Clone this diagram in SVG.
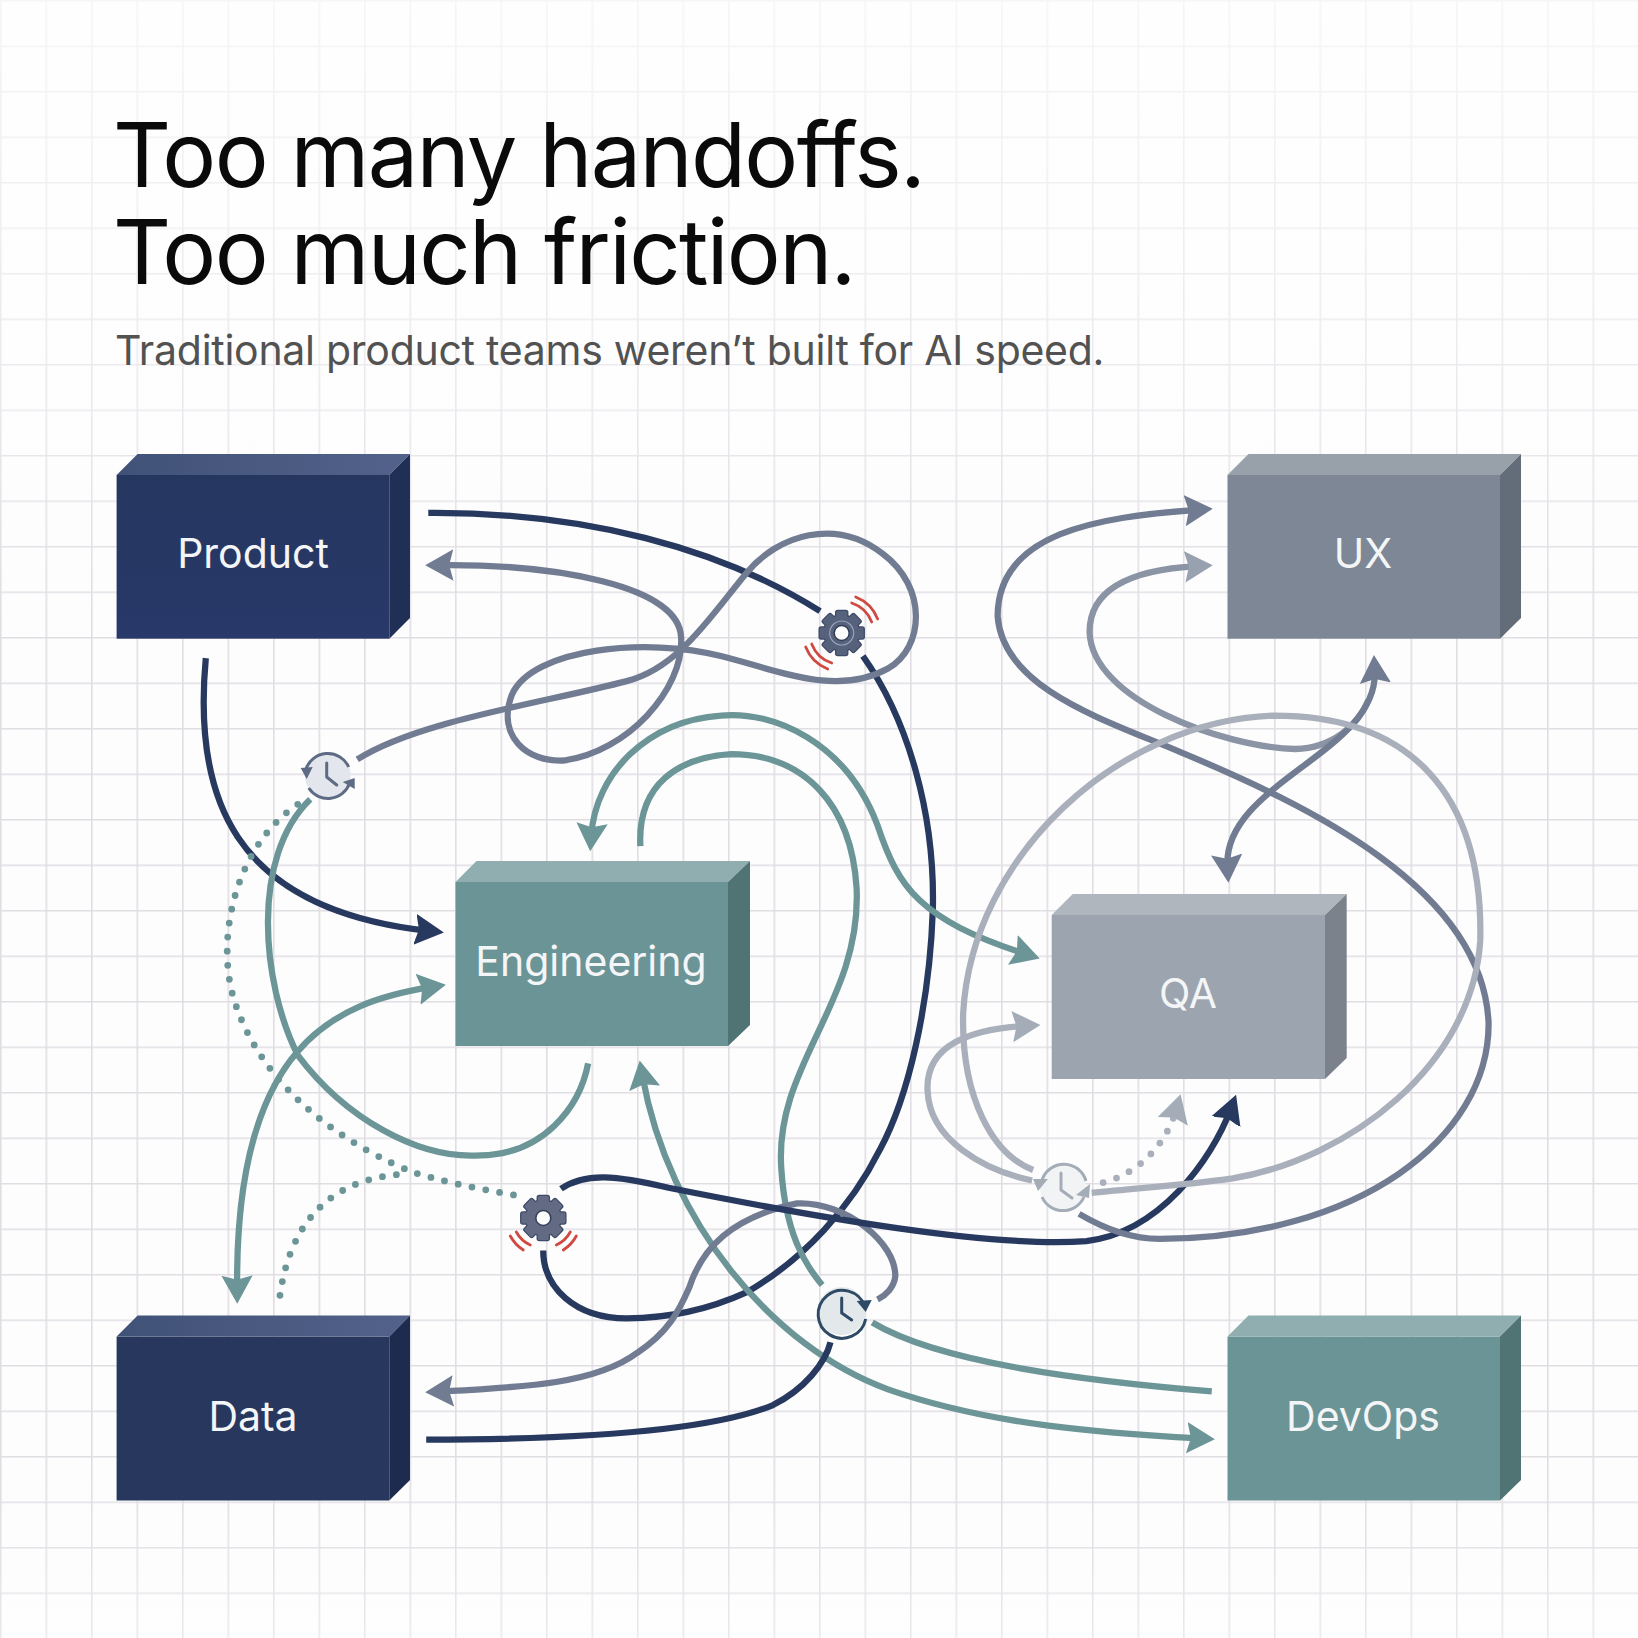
<svg xmlns="http://www.w3.org/2000/svg" xmlns:xlink="http://www.w3.org/1999/xlink" width="1638" height="1638" viewBox="0 0 1638 1638">
<style>
.lbl{font-family:Inter,"Liberation Sans",sans-serif;font-size:41px;fill:#f4f5f6;text-anchor:middle}
.ttl{font-family:Inter,"Liberation Sans",sans-serif;font-size:90px;font-weight:430;letter-spacing:-1.7px;font-variant-ligatures:none;fill:#0a0a0a}
.sub{font-family:Inter,"Liberation Sans",sans-serif;font-size:41px;letter-spacing:-.27px;fill:#525252}
.c{fill:none;stroke-width:6;stroke-linecap:butt}
.navy{stroke:#27395f}.slate{stroke:#717c93}.teal{stroke:#6c9597}.mist{stroke:#8b94a5}.light{stroke:#a9b0bb}
.dot{stroke-width:6.5;stroke-linecap:round;stroke-dasharray:0 13.5}
.red{fill:none;stroke:#cf4a42;stroke-width:2.8;stroke-linecap:round}
.hand{fill:none;stroke-width:3;stroke-linecap:round;stroke-linejoin:round}
</style>
<defs>
<pattern id="grid" width="45.5" height="45.5" patternUnits="userSpaceOnUse">
<path d="M0.5 0V45.5M0 0.5H45.5" stroke="#e0dde3" stroke-width="2.2" fill="none"/>
</pattern>
<linearGradient id="fade" x1="0" y1="0" x2="0" y2="1"><stop offset="0" stop-color="#fff" stop-opacity=".7"/><stop offset=".25" stop-color="#fff" stop-opacity=".35"/><stop offset=".38" stop-color="#fff" stop-opacity="0"/><stop offset=".9" stop-color="#fff" stop-opacity="0"/><stop offset="1" stop-color="#fff" stop-opacity=".35"/></linearGradient>
<marker id="aNavy" markerUnits="userSpaceOnUse" markerWidth="32" markerHeight="32" viewBox="0 -16 32 32" refX="12" refY="0" orient="auto-start-reverse"><path d="M-1 -15L27 0L-1 15L3 0Z" fill="#27395f"/></marker>
<marker id="aSlate" markerUnits="userSpaceOnUse" markerWidth="32" markerHeight="32" viewBox="0 -16 32 32" refX="12" refY="0" orient="auto-start-reverse"><path d="M0 -15L27 0L0 15L4 0Z" fill="#717c93"/></marker>
<marker id="aTeal" markerUnits="userSpaceOnUse" markerWidth="32" markerHeight="32" viewBox="0 -16 32 32" refX="12" refY="0" orient="auto-start-reverse"><path d="M0 -15L27 0L0 15L4 0Z" fill="#6c9597"/></marker>
<marker id="aMist" markerUnits="userSpaceOnUse" markerWidth="32" markerHeight="32" viewBox="0 -16 32 32" refX="12" refY="0" orient="auto-start-reverse"><path d="M0 -15L27 0L0 15L4 0Z" fill="#98a1af"/></marker>
<marker id="aLight" markerUnits="userSpaceOnUse" markerWidth="32" markerHeight="32" viewBox="0 -16 32 32" refX="12" refY="0" orient="auto-start-reverse"><path d="M0 -15L27 0L0 15L4 0Z" fill="#a3acb7"/></marker>
<g id="gearBody">
<rect x="-5.5" y="-22" width="11" height="44" rx="1.5"/>
<rect x="-5.5" y="-22" width="11" height="44" rx="1.5" transform="rotate(45)"/>
<rect x="-5.5" y="-22" width="11" height="44" rx="1.5" transform="rotate(90)"/>
<rect x="-5.5" y="-22" width="11" height="44" rx="1.5" transform="rotate(135)"/>
<circle r="17.5"/>
</g>
<linearGradient id="navyFront" x1="0" y1="0" x2="0" y2="1"><stop offset="0" stop-color="#25365f"/><stop offset="1" stop-color="#28396a"/></linearGradient>
<linearGradient id="navyTop" x1="0" y1="0" x2="1" y2="0"><stop offset="0" stop-color="#415278"/><stop offset="1" stop-color="#52628a"/></linearGradient>
</defs>
<rect width="1638" height="1638" fill="#fdfdfd"/>
<rect width="1638" height="1638" fill="url(#grid)"/>
<rect width="1638" height="1638" fill="url(#fade)"/>

<g id="title">
<text class="ttl" x="113" y="187">Too many handoffs.</text>
<text class="ttl" x="113" y="284">Too much friction.</text>
<text class="sub" x="115" y="365">Traditional product teams weren’t built for AI speed.</text>
</g>

<g id="connectors" transform="scale(1.04464)">
<path class="c navy" d="M410 491C560 490 690 525 785 585"/>
<path class="c navy" d="M826 628C870 690 895 780 893 870C890 960 870 1050 842 1101C815 1155 770 1205 715 1237C680 1253 640 1262 600 1262C550 1262 520 1232 520 1197"/>
<path class="c slate" marker-end="url(#aSlate)" d="M342 727C400 690 520 673 600 652C650 639 680 590 715 548C745 512 800 495 845 530C888 562 885 620 850 640C800 668 740 640 690 628C620 610 510 620 490 665C475 705 505 730 540 728C600 720 655 660 652 610C650 560 530 540 422 541"/>
<path class="c navy" marker-end="url(#aNavy)" d="M197 630C185 760 220 870 410 891"/>
<path class="c teal" d="M297 765C240 820 250 940 285 1010C330 1070 400 1110 460 1106C520 1105 555 1060 563 1018"/>
<path class="c teal dot" d="M285 770C225 810 205 900 225 960C255 1050 340 1100 395 1122C430 1133 460 1138 492 1144"/>
<path class="c teal dot" d="M268 1240C275 1190 300 1130 385 1124"/>
<path class="c teal" marker-start="url(#aTeal)" marker-end="url(#aTeal)" d="M412 945C320 960 225 1000 227 1233"/>
<path class="c teal" marker-start="url(#aTeal)" marker-end="url(#aTeal)" d="M981 913C880 880 860 850 840 790C810 710 740 680 690 685C620 690 570 740 566 800"/>
<path class="c teal" d="M613 810C610 750 650 725 700 722C770 722 815 770 820 850C825 960 740 1020 748 1120C752 1180 770 1210 787 1230"/>
<path class="c teal" marker-start="url(#aTeal)" marker-end="url(#aTeal)" d="M615 1030C640 1170 740 1290 850 1330C950 1365 1060 1372 1148 1377"/>
<path class="c teal" d="M835 1266C900 1305 1040 1322 1160 1332"/>
<path class="c navy" d="M408 1378C550 1378 680 1370 740 1345C770 1330 790 1305 795 1285"/>
<path class="c slate" marker-start="url(#aSlate)" d="M422 1332C500 1328 570 1325 610 1295C640 1275 650 1255 660 1232C672 1195 700 1165 763 1152C810 1150 858 1190 857 1222C856 1232 848 1240 840 1244"/>
<path class="c navy" marker-end="url(#aNavy)" d="M537 1138C560 1122 590 1125 640 1137C780 1165 950 1195 1040 1188C1110 1180 1160 1110 1178 1062"/>
<path class="c slate" marker-start="url(#aSlate)" d="M1146 488C1050 495 955 510 955 590C960 660 1060 690 1130 720C1250 770 1420 850 1425 980C1425 1090 1300 1185 1110 1186C1080 1186 1055 1175 1033 1162"/>
<path class="c mist" marker-start="url(#aMist)" d="M1146 542C1090 545 1043 560 1043 605C1045 670 1170 715 1240 717C1275 716 1300 695 1310 670"/>
<path class="c slate" marker-start="url(#aSlate)" marker-end="url(#aSlate)" d="M1316 642C1320 720 1170 750 1175 830"/>
<path class="c light" d="M989 1120C950 1105 920 1050 922 970C930 820 1070 690 1220 685C1350 685 1420 760 1417 900C1410 1020 1290 1110 1180 1128C1130 1135 1090 1137 1045 1142"/>
<path class="c light" marker-start="url(#aLight)" d="M981 982C930 985 885 1000 888 1045C890 1090 940 1120 988 1130"/>
<path class="c light dot" marker-end="url(#aLight)" d="M1056 1132C1085 1125 1115 1100 1126 1062"/>
</g>

<g id="gear-1" transform="translate(841.7 633)">
<use href="#gearBody" fill="#3e4a66" stroke="#3e4a66" stroke-width="2.5"/>
<use href="#gearBody" fill="#56617c"/>
<circle r="12" fill="none" stroke="#98a2b8" stroke-width="1.2"/>
<circle r="7.5" fill="#fdfdfd" stroke="#353f58" stroke-width="1.5"/>
<path class="red" d="M10 -30A32 32 0 0 1 30 -11M14 -36A39 39 0 0 1 36 -14M-10 30A32 32 0 0 1 -30 11M-14 36A39 39 0 0 1 -36 14"/>
</g>
<g id="gear-2" transform="translate(543.3 1218)">
<use href="#gearBody" fill="#3e4a66" stroke="#3e4a66" stroke-width="2.5"/>
<use href="#gearBody" fill="#626a84"/>
<circle r="7.5" fill="#fdfdfd" stroke="#353f58" stroke-width="1.5"/>
<path class="red" d="M-13 27A30 30 0 0 1 -27 14M-20 32A38 38 0 0 1 -33 18M13 27A30 30 0 0 0 27 14M20 32A38 38 0 0 0 33 18"/>
</g>
<g id="clock-1" transform="translate(327.7 775)">
<circle r="23" fill="#e3e6ec"/>
<path d="M-22 -5A23 23 0 0 1 21 -8M22 8A23 23 0 0 1 -19 13" fill="none" stroke="#5d6b84" stroke-width="3"/>
<path d="M-27 -7L-15 -8L-21 4ZM27 14L15 7L27 3Z" fill="#5d6b84"/>
<path class="hand" stroke="#5d6b84" d="M-1 -12V2L9 10"/>
</g>
<g id="clock-3" transform="translate(841.7 1311)">
<circle r="24" fill="#e3e9ea"/>
<path d="M23 -5A24 24 0 1 0 24 8" fill="none" stroke="#2f4a66" stroke-width="3"/>
<path d="M15 -10L30 -11L24 1Z" fill="#2f4a66"/>
<path class="hand" stroke="#2f4a66" d="M0 -13V2L10 9"/>
</g>
<g id="clock-4" transform="translate(1063 1188)">
<circle r="23" fill="#f2f3f5"/>
<path d="M-21 -8A23 23 0 0 1 23 -7M21 9A23 23 0 0 1 -21 9" fill="none" stroke="#a3acb7" stroke-width="3"/>
<path d="M-30 -9L-15 -9L-25 3ZM27 -4L26 10L13 7Z" fill="#a3acb7"/>
<path class="hand" stroke="#a3acb7" d="M-2 -15V2L9 10"/>
</g>

<g id="node-product">
<path d="M116.6 475L137.6 454H410L389.3 475Z" fill="url(#navyTop)"/>
<path d="M389.3 475L410 454V618L389.3 638.7Z" fill="#1f2f55"/>
<rect x="116.6" y="475" width="272.7" height="163.7" fill="url(#navyFront)"/>
<text class="lbl" x="253" y="568">Product</text>
</g>
<g id="node-ux">
<path d="M1227.5 475L1248.5 454H1521L1500 475Z" fill="#98a0aa"/>
<path d="M1500 475L1521 454V618L1500 638.7Z" fill="#636c79"/>
<rect x="1227.5" y="475" width="272.5" height="163.7" fill="#7d8796"/>
<text class="lbl" x="1363" y="568">UX</text>
</g>
<g id="node-engineering">
<path d="M455.5 882L476.5 861H750L728 882Z" fill="#90aeaf"/>
<path d="M728 882L750 861V1025L728 1046Z" fill="#507374"/>
<rect x="455.5" y="882" width="272.5" height="164" fill="#6b9496"/>
<text class="lbl" x="591" y="975.5">Engineering</text>
</g>
<g id="node-qa">
<path d="M1051.7 915L1072.7 894H1346.7L1325 915Z" fill="#b0b6bd"/>
<path d="M1325 915L1346.7 894V1058L1325 1079Z" fill="#7b828c"/>
<rect x="1051.7" y="915" width="273.3" height="164" fill="#9ba4af"/>
<text class="lbl" x="1188" y="1007.7">QA</text>
</g>
<g id="node-data">
<path d="M116.6 1336.6L137.6 1315.5H410L389.3 1336.6Z" fill="url(#navyTop)"/>
<path d="M389.3 1336.6L410 1315.5V1480L389.3 1500.5Z" fill="#1d2b4e"/>
<rect x="116.6" y="1336.6" width="272.7" height="163.9" fill="#27375e"/>
<text class="lbl" x="253" y="1431">Data</text>
</g>
<g id="node-devops">
<path d="M1227.5 1336.6L1248.5 1315.5H1521L1500 1336.6Z" fill="#90aeaf"/>
<path d="M1500 1336.6L1521 1315.5V1480L1500 1500.5Z" fill="#507374"/>
<rect x="1227.5" y="1336.6" width="272.5" height="163.9" fill="#6b9496"/>
<text class="lbl" x="1363" y="1431">DevOps</text>
</g>
</svg>
